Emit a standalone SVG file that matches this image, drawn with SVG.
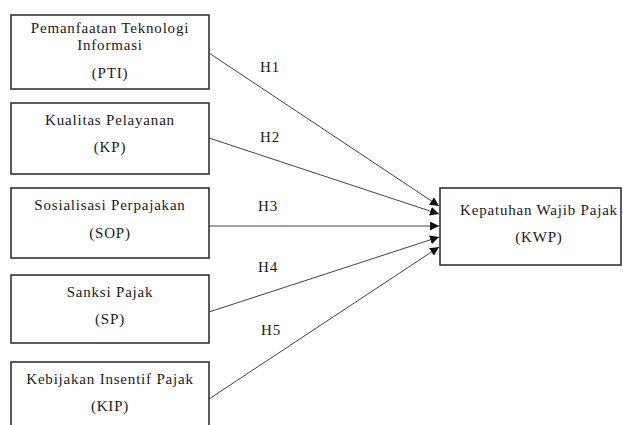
<svg xmlns="http://www.w3.org/2000/svg" width="623" height="425" viewBox="0 0 623 425">
<style>
.box{fill:#fff;stroke:#333;stroke-width:1.6}
.t{font-family:"Liberation Serif","Times New Roman",serif;font-size:15px;letter-spacing:0.8px;fill:#1a1a1a;text-anchor:middle}
.c{stroke:#444;stroke-width:1;fill:none;marker-end:url(#ah)}
</style>
<defs>
<marker id="ah" viewBox="0 0 10 10" refX="10" refY="5" markerWidth="9" markerHeight="9" markerUnits="userSpaceOnUse" orient="auto">
<path d="M0,0 L10,5 L0,10 z" fill="#111"/>
</marker>
</defs>
<rect width="623" height="425" fill="#fff"/>
<g id="PTI"><rect class="box" x="11" y="15" width="198" height="74"/>
<text class="t" x="110" y="33">Pemanfaatan Teknologi</text>
<text class="t" x="110" y="50">Informasi</text>
<text class="t" x="110" y="78">(PTI)</text></g>
<g id="KP"><rect class="box" x="11" y="103" width="198" height="71"/>
<text class="t" x="110" y="125">Kualitas Pelayanan</text>
<text class="t" x="110" y="152">(KP)</text></g>
<g id="SOP"><rect class="box" x="11" y="188" width="198" height="70"/>
<text class="t" x="110" y="210">Sosialisasi Perpajakan</text>
<text class="t" x="110" y="238">(SOP)</text></g>
<g id="SP"><rect class="box" x="11" y="275" width="198" height="68"/>
<text class="t" x="110" y="297">Sanksi Pajak</text>
<text class="t" x="110" y="324">(SP)</text></g>
<g id="KIP"><rect class="box" x="11" y="362" width="198" height="70"/>
<text class="t" x="110" y="384">Kebijakan Insentif Pajak</text>
<text class="t" x="110" y="411">(KIP)</text></g>
<g id="KWP"><rect class="box" x="440" y="188" width="181" height="77"/>
<text class="t" x="539" y="215">Kepatuhan Wajib Pajak</text>
<text class="t" x="539" y="242">(KWP)</text></g>
<g id="connectors">
<line class="c" x1="209" y1="53" x2="439" y2="206"/>
<line class="c" x1="209" y1="138" x2="439" y2="214"/>
<line class="c" x1="209" y1="226" x2="439" y2="226"/>
<line class="c" x1="209" y1="312" x2="439" y2="237"/>
<line class="c" x1="209" y1="399" x2="439" y2="247"/>
<text class="t" x="270" y="72">H1</text>
<text class="t" x="270" y="142">H2</text>
<text class="t" x="268" y="211">H3</text>
<text class="t" x="268" y="272">H4</text>
<text class="t" x="271" y="335">H5</text>
</g>
</svg>
